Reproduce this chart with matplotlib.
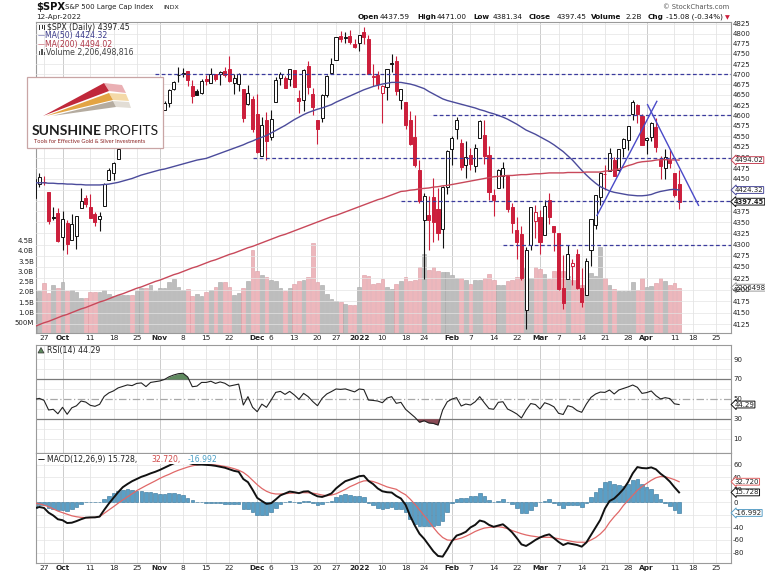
import matplotlib
matplotlib.use("Agg")
import matplotlib.pyplot as plt
from matplotlib.patches import Rectangle, Polygon
from matplotlib.ticker import FixedLocator, NullLocator
import numpy as np

plt.rcParams['font.family'] = ['DejaVu Sans']

# ---------------- data ----------------
trading_days = {
    "2021-09": [23, 24, 27, 28, 29, 30],
    "2021-10": [1, 4, 5, 6, 7, 8, 11, 12, 13, 14, 15, 18, 19, 20, 21, 22, 25, 26, 27, 28, 29],
    "2021-11": [1, 2, 3, 4, 5, 8, 9, 10, 11, 12, 15, 16, 17, 18, 19, 22, 23, 24, 26, 29, 30],
    "2021-12": [1, 2, 3, 6, 7, 8, 9, 10, 13, 14, 15, 16, 17, 20, 21, 22, 23, 27, 28, 29, 30, 31],
    "2022-01": [3, 4, 5, 6, 7, 10, 11, 12, 13, 14, 18, 19, 20, 21, 24, 25, 26, 27, 28, 31],
    "2022-02": [1, 2, 3, 4, 7, 8, 9, 10, 11, 14, 15, 16, 17, 18, 22, 23, 24, 25, 28],
    "2022-03": [1, 2, 3, 4, 7, 8, 9, 10, 11, 14, 15, 16, 17, 18, 21, 22, 23, 24, 25, 28, 29, 30, 31],
    "2022-04": [1, 4, 5, 6, 7, 8, 11, 12],
}
future_days = {"2022-04": [13, 14, 18, 19, 20, 21, 22, 25, 26, 27, 28, 29]}

prev_close = 4395.64

opens = [4406.75, 4438.04, 4442.12, 4419.54, 4362.41, 4370.67,
         4317.16, 4348.84, 4309.87, 4319.57, 4383.73, 4406.51, 4385.44, 4368.31, 4358.01, 4386.75, 4447.69,
         4463.72, 4497.34, 4524.42, 4532.24, 4546.12, 4553.69, 4578.69, 4580.22, 4562.84, 4572.87,
         4610.62, 4613.34, 4630.65, 4662.93, 4699.26, 4701.48, 4707.25, 4670.26, 4659.39, 4655.24, 4689.30,
         4679.42, 4701.50, 4700.72, 4708.44, 4712.00, 4678.48, 4675.78, 4664.63, 4628.75, 4640.25,
         4602.82, 4504.73, 4589.49, 4548.37, 4631.97, 4690.86, 4691.00, 4687.64, 4710.30, 4642.99, 4636.46,
         4719.13, 4652.50, 4587.90, 4594.96, 4650.36, 4703.96, 4733.99, 4795.49, 4788.64, 4794.23, 4775.21,
         4778.14, 4804.51, 4787.99, 4693.39, 4697.66, 4655.34, 4669.14, 4728.59, 4733.56, 4637.99, 4632.24,
         4588.03, 4547.35, 4471.38, 4356.32, 4366.64, 4408.43, 4380.58, 4336.19, 4431.79,
         4519.57, 4566.39, 4535.41, 4482.79, 4505.75, 4480.02, 4547.00, 4553.24, 4506.27, 4412.61, 4429.28,
         4455.75, 4456.06, 4384.57, 4332.74, 4324.93, 4155.77, 4298.38, 4354.17,
         4363.14, 4322.56, 4401.31, 4342.12, 4327.01, 4202.66, 4223.10, 4252.55, 4279.50, 4202.75, 4188.82,
         4288.14, 4345.11, 4407.34, 4462.40, 4469.10, 4493.10, 4469.98, 4522.91, 4541.09, 4602.86, 4624.20, 4599.02,
         4540.32, 4547.97, 4572.45, 4494.17, 4474.65, 4494.15, 4462.64, 4437.59]
highs = [4465.40, 4463.12, 4457.30, 4419.54, 4385.57, 4382.55,
         4375.19, 4355.51, 4369.23, 4365.57, 4429.97, 4412.02, 4415.88, 4374.89, 4372.87, 4439.73, 4475.82,
         4488.75, 4520.40, 4540.87, 4551.44, 4559.67, 4572.62, 4598.53, 4584.57, 4597.55, 4608.08,
         4620.34, 4635.15, 4663.46, 4683.00, 4718.50, 4714.92, 4708.53, 4684.85, 4664.55, 4688.47, 4697.42,
         4714.95, 4701.50, 4708.80, 4717.75, 4743.83, 4699.39, 4702.87, 4664.63, 4672.95, 4646.02,
         4652.94, 4595.46, 4608.03, 4612.60, 4694.04, 4705.06, 4695.26, 4713.57, 4710.30, 4660.47, 4712.60,
         4731.99, 4666.70, 4587.90, 4651.14, 4697.67, 4740.74, 4791.49, 4807.02, 4804.06, 4808.93, 4786.83,
         4796.64, 4818.62, 4797.70, 4725.01, 4707.95, 4673.02, 4714.13, 4748.83, 4744.13, 4665.13, 4632.24,
         4611.55, 4602.11, 4494.52, 4417.35, 4411.01, 4453.23, 4428.74, 4432.72, 4516.89,
         4550.49, 4595.31, 4542.88, 4539.66, 4521.86, 4531.32, 4590.03, 4588.92, 4526.33, 4426.22, 4472.77,
         4489.55, 4456.06, 4394.60, 4362.12, 4341.51, 4294.73, 4385.34, 4388.84,
         4378.45, 4401.48, 4416.78, 4342.12, 4327.01, 4276.94, 4299.40, 4268.28, 4291.01, 4247.57, 4271.05,
         4358.90, 4412.67, 4465.40, 4481.75, 4522.00, 4501.07, 4520.58, 4546.03, 4575.65, 4637.30, 4627.77, 4603.07,
         4548.70, 4583.50, 4593.45, 4503.94, 4521.16, 4520.41, 4464.35, 4471.00]
lows = [4406.75, 4430.27, 4436.19, 4346.33, 4355.08, 4306.24,
        4288.52, 4278.94, 4309.87, 4290.49, 4383.73, 4386.22, 4360.59, 4342.09, 4329.92, 4386.75, 4447.69,
        4447.47, 4496.41, 4524.40, 4526.89, 4524.00, 4537.36, 4569.17, 4551.66, 4562.84, 4567.59,
        4595.06, 4613.34, 4621.19, 4662.59, 4681.32, 4694.39, 4670.87, 4630.86, 4648.31, 4650.77, 4672.86,
        4679.42, 4684.41, 4672.78, 4694.22, 4682.17, 4652.66, 4659.89, 4585.43, 4625.26, 4560.00,
        4510.27, 4504.73, 4495.12, 4540.51, 4631.97, 4674.52, 4665.98, 4670.24, 4667.60, 4606.52, 4611.22,
        4651.89, 4600.22, 4531.10, 4583.16, 4645.53, 4703.96, 4733.99, 4780.04, 4778.08, 4775.33, 4765.75,
        4758.17, 4774.27, 4699.44, 4671.26, 4662.74, 4582.24, 4638.27, 4706.71, 4650.29, 4614.75, 4568.70,
        4530.20, 4477.95, 4395.34, 4222.62, 4287.11, 4304.80, 4309.50, 4292.46, 4414.02,
        4483.53, 4544.32, 4470.39, 4451.50, 4471.47, 4465.40, 4547.00, 4484.31, 4401.41, 4364.84, 4429.28,
        4429.68, 4373.81, 4327.22, 4267.11, 4221.51, 4114.65, 4286.83, 4315.12,
        4279.54, 4322.56, 4345.56, 4284.98, 4199.85, 4157.87, 4223.10, 4209.80, 4200.49, 4161.72, 4187.90,
        4251.99, 4335.65, 4390.57, 4424.30, 4469.10, 4455.81, 4465.17, 4501.07, 4517.69, 4589.66, 4581.32, 4530.41,
        4507.57, 4539.21, 4514.17, 4450.04, 4450.30, 4474.60, 4408.38, 4381.34]
closes = [4448.98, 4455.48, 4443.11, 4352.63, 4359.46, 4307.54,
          4357.04, 4300.46, 4345.72, 4363.55, 4399.76, 4391.34, 4361.19, 4350.65, 4363.80, 4438.26, 4471.37,
          4486.46, 4519.63, 4536.19, 4549.78, 4544.90, 4566.48, 4574.79, 4551.68, 4596.42, 4605.38,
          4613.67, 4630.65, 4660.57, 4680.06, 4697.53, 4701.70, 4685.25, 4646.71, 4649.27, 4682.85, 4682.80,
          4700.90, 4688.67, 4704.54, 4697.96, 4682.94, 4690.70, 4701.46, 4594.62, 4655.27, 4567.00,
          4513.04, 4577.10, 4538.43, 4591.67, 4686.75, 4701.21, 4667.45, 4712.02, 4668.97, 4634.09, 4709.85,
          4668.67, 4620.64, 4568.02, 4649.23, 4696.56, 4725.79, 4791.19, 4786.35, 4793.06, 4778.73, 4766.18,
          4796.56, 4793.54, 4700.58, 4696.05, 4677.03, 4670.29, 4713.07, 4726.35, 4659.03, 4662.85, 4577.11,
          4532.76, 4482.73, 4397.94, 4410.13, 4356.45, 4349.93, 4326.51, 4431.85, 4515.55,
          4546.54, 4589.38, 4477.44, 4500.53, 4483.87, 4521.54, 4587.18, 4504.08, 4418.64, 4401.67, 4471.07,
          4475.01, 4380.26, 4348.87, 4304.76, 4225.50, 4288.70, 4384.65, 4373.94,
          4306.26, 4386.54, 4363.49, 4328.87, 4201.09, 4170.70, 4277.88, 4259.52, 4204.31, 4173.11, 4262.45,
          4357.86, 4411.67, 4463.12, 4461.18, 4511.61, 4456.24, 4520.16, 4543.06, 4575.52, 4631.60, 4602.45, 4530.41,
          4545.86, 4582.64, 4525.12, 4481.15, 4500.21, 4488.28, 4412.53, 4397.45]

volume_b = [1.71, 2.06, 2.44, 1.95, 2.33, 2.20, 2.47, 2.06, 2.08, 1.98,
            1.71, 1.71, 1.98, 1.98, 1.98, 2.08, 1.90, 1.82, 1.87, 1.87,
            1.85, 1.87, 2.03, 2.20, 2.20, 2.33, 2.03, 2.18, 2.18, 2.49,
            2.63, 2.24, 2.11, 2.15, 1.79, 1.90, 1.82, 1.98, 2.08, 2.24,
            2.47, 2.47, 2.24, 1.87, 1.95, 2.20, 2.52, 4.06, 3.04, 2.81,
            2.73, 2.59, 2.52, 2.20, 2.06, 2.18, 2.39, 2.52, 2.59, 2.73,
            4.39, 2.49, 2.33, 1.90, 1.66, 1.55, 1.51, 1.41, 1.37, 1.37,
            2.24, 2.85, 2.80, 2.39, 2.44, 2.65, 2.24, 2.13, 2.39, 2.55,
            2.72, 2.52, 2.59, 3.20, 3.87, 3.09, 3.20, 3.04, 2.98, 2.98,
            2.85, 2.68, 2.68, 2.60, 2.39, 2.60, 2.57, 2.68, 2.89, 2.60,
            2.36, 2.36, 2.52, 2.60, 2.73, 2.68, 3.17, 2.68, 3.20, 3.12,
            2.88, 2.63, 3.00, 3.77, 3.00, 2.76, 2.60, 2.60, 2.36, 2.60,
            2.93, 2.80, 4.20, 2.68, 2.36, 2.16, 2.07, 2.03, 2.07, 2.49,
            2.11, 2.68, 2.24, 2.31, 2.44, 2.68, 2.55, 2.33, 2.46, 2.21]

ma50 = [4441, 4441, 4441, 4440, 4440, 4439, 4439, 4438, 4438, 4437,
        4437, 4436, 4436, 4436, 4436, 4437, 4438, 4440, 4442, 4445,
        4448, 4451, 4455, 4459, 4462, 4465, 4468, 4471, 4473, 4476,
        4479, 4482, 4485, 4488, 4491, 4494, 4496, 4498, 4502, 4506,
        4510, 4514, 4518, 4522, 4526, 4530, 4535, 4539, 4544, 4548,
        4552, 4558, 4564, 4570, 4576, 4583, 4590, 4596, 4602, 4607,
        4611, 4615, 4618, 4622, 4626, 4632, 4637, 4642, 4647, 4652,
        4657, 4662, 4666, 4670, 4673, 4676, 4678, 4680, 4680, 4680,
        4678, 4676, 4673, 4669, 4665, 4658, 4652, 4646, 4640, 4636,
        4633, 4630, 4627, 4624, 4621, 4618, 4614, 4611, 4607, 4604,
        4600, 4596, 4591, 4585, 4579, 4572, 4565, 4560, 4555, 4549,
        4543, 4537, 4530, 4522, 4514, 4504, 4494, 4482, 4470, 4459,
        4449, 4440, 4432, 4427, 4422, 4419, 4417, 4415, 4413, 4412,
        4411, 4411, 4412, 4414, 4418, 4421, 4423, 4425, 4426, 4424.32]

ma200 = [4120, 4124, 4128, 4131, 4135, 4139, 4143, 4146, 4150, 4154,
         4158, 4161, 4165, 4169, 4173, 4176, 4180, 4184, 4188, 4191,
         4195, 4199, 4203, 4206, 4210, 4214, 4218, 4221, 4225, 4229,
         4233, 4236, 4240, 4244, 4248, 4251, 4255, 4259, 4263, 4266,
         4270, 4274, 4278, 4281, 4285, 4289, 4293, 4296, 4300, 4304,
         4308, 4312, 4316, 4320, 4323, 4327, 4331, 4335, 4339, 4343,
         4347, 4351, 4355, 4359, 4363, 4366, 4370, 4374, 4378, 4382,
         4386, 4390, 4394, 4398, 4402, 4405, 4409, 4413, 4417, 4421,
         4422, 4424, 4425, 4427, 4428, 4429, 4431, 4432, 4434, 4435,
         4437, 4439, 4441, 4443, 4445, 4447, 4449, 4451, 4453, 4455,
         4456, 4457, 4458, 4458, 4459, 4460, 4460, 4461, 4462, 4462,
         4463, 4464, 4464, 4464, 4464, 4465, 4465, 4465, 4465, 4466,
         4466, 4466, 4466, 4468, 4469, 4471, 4473, 4477, 4481, 4484,
         4488, 4490, 4491, 4492, 4494, 4495, 4495, 4494.5, 4494.3, 4494.02]

rsi14 = [49.5, 50.5, 48.5, 38.8, 39.5, 35.0, 41.5, 34.5, 41.0, 43.0,
         47.8, 46.8, 43.5, 42.5, 44.5, 52.5, 56.0, 58.0, 61.0, 62.5,
         64.0, 63.3, 65.5, 66.0, 62.3, 66.5, 67.3, 68.0, 69.5, 72.2,
         74.0, 75.3, 75.7, 72.0, 62.2, 62.8, 66.5, 66.5, 67.7, 65.5,
         67.0, 65.7, 62.8, 63.8, 64.8, 43.8, 52.2, 41.5, 37.1, 44.7,
         41.5, 48.8, 56.5, 57.5, 54.5, 57.5, 53.9, 49.5, 55.5, 52.2,
         47.2, 43.1, 50.5, 54.9, 57.3, 59.9, 59.5, 60.0, 58.5, 57.0,
         59.9, 59.3, 48.8, 48.4, 47.8, 46.1, 50.8, 52.2, 45.5, 46.5,
         39.5, 35.5, 31.5, 26.5, 28.0, 25.8, 25.3, 23.7, 38.8, 47.1,
         49.8, 51.2, 42.8, 44.8, 43.8, 47.0, 52.2, 46.0, 40.2, 39.5,
         46.5, 47.1, 39.8, 37.5, 34.8, 30.8, 38.8, 45.3, 44.3, 39.8,
         46.1, 44.5, 42.0, 35.5, 34.3, 43.1, 41.8, 38.2, 36.5, 44.8,
         51.5, 54.9, 56.8, 56.5, 58.9, 54.9, 58.9, 60.5, 62.0, 63.9,
         61.6, 55.5, 56.3, 57.9, 53.2, 49.9, 51.2, 50.3, 45.0, 44.29]

macd_line = [-9.5, -7.5, -9.0, -16.5, -21.0, -27.0, -28.5, -33.0, -32.5, -30.0,
             -27.0, -24.5, -24.0, -24.0, -22.8, -12.0, -2.0, 7.0, 16.0, 24.0,
             29.0, 33.5, 37.0, 40.5, 43.0, 46.0, 48.5, 51.5, 55.0, 58.5,
             62.0, 64.5, 65.0, 63.0, 61.0, 60.0, 60.0, 59.5, 59.0, 58.0,
             56.5, 55.0, 52.5, 50.0, 48.5, 37.0, 32.0, 20.0, 7.0, 2.0,
             -2.5, -1.5, 4.5, 11.0, 14.0, 17.0, 16.0, 14.5, 17.0, 17.5,
             13.0, 9.5, 8.5, 11.0, 14.0, 22.0, 28.0, 33.5, 36.0, 38.5,
             41.5, 42.3, 34.0, 29.0, 22.0, 17.5, 16.0, 15.5, 10.0, 6.0,
             -4.0, -22.0, -37.0, -50.0, -58.0, -68.0, -78.0, -85.4, -86.5, -75.0,
             -62.0, -53.0, -50.5, -47.0, -40.0, -36.0, -29.0, -31.0, -36.0, -39.0,
             -37.0, -35.0, -41.0, -48.0, -57.0, -67.0, -69.5, -65.0, -60.0, -56.0,
             -53.0, -51.0, -57.0, -63.0, -68.0, -65.0, -66.5, -68.0, -70.6, -64.0,
             -52.0, -40.0, -28.0, -10.0, 2.0, 6.0, 13.0, 21.0, 32.0, 46.0,
             56.0, 54.5, 54.0, 55.5, 52.5, 45.5, 40.0, 33.0, 24.0, 15.728]

signal_line = [-1.0, -2.5, -4.5, -7.0, -10.5, -14.0, -16.5, -19.0, -21.5, -23.0,
               -24.0, -24.5, -24.5, -23.8, -22.9, -17.5, -12.2, -7.0, -1.5, 3.7,
               8.5, 13.5, 18.5, 22.5, 26.5, 30.2, 34.0, 38.0, 41.5, 44.5,
               48.0, 51.0, 53.5, 56.0, 58.0, 59.5, 60.3, 60.3, 60.0, 59.3,
               58.3, 57.0, 55.5, 53.5, 51.0, 47.5, 42.0, 35.0, 28.0, 22.0,
               17.5, 14.5, 13.2, 13.2, 13.6, 14.3, 14.8, 15.3, 15.3, 15.1,
               14.5, 13.2, 11.5, 10.5, 11.5, 13.5, 17.0, 20.5, 24.8, 28.0,
               31.5, 34.0, 34.4, 33.0, 30.5, 27.5, 24.5, 22.5, 20.7, 16.0,
               12.0, 5.0, -3.0, -12.0, -21.0, -30.0, -40.0, -49.0, -56.0, -60.0,
               -60.5, -59.0, -57.0, -54.0, -50.5, -46.5, -43.5, -41.0, -40.0, -39.5,
               -38.8, -40.0, -42.0, -45.0, -47.5, -50.0, -52.0, -53.5, -54.5, -55.7,
               -55.7, -55.7, -56.5, -58.0, -59.5, -61.0, -62.5, -63.5, -63.6, -63.6,
               -60.0, -56.0, -50.4, -43.0, -32.0, -23.0, -15.0, -5.0, 3.0, 11.0,
               19.0, 25.0, 30.0, 35.0, 39.0, 41.0, 40.7, 38.5, 36.0, 32.72]

# horizontal support / resistance levels drawn on the chart and where they start
level_prices = [4700, 4600, 4500, 4398, 4300]
level_starts = ["2021-10-29", "2022-01-26", "2021-11-30", "2022-01-14", "2022-02-16"]
# hand-drawn trend lines (trading-day position, price)
trend1_x, trend1_y = [121.3, 134.2], [4366, 4634]
trend2_x, trend2_y = [132.2, 143.2], [4626, 4389]

tick_dates = ["2021-09-27", "2021-10-01", "2021-10-11", "2021-10-18", "2021-10-25", "2021-11-01",
              "2021-11-08", "2021-11-15", "2021-11-22", "2021-12-01", "2021-12-06", "2021-12-13",
              "2021-12-20", "2021-12-27", "2022-01-03", "2022-01-10", "2022-01-18", "2022-01-24",
              "2022-02-01", "2022-02-07", "2022-02-14", "2022-02-22", "2022-03-01", "2022-03-07",
              "2022-03-14", "2022-03-21", "2022-03-28", "2022-04-01", "2022-04-11", "2022-04-18",
              "2022-04-25"]
tick_labels = ["27", "Oct", "11", "18", "25", "Nov", "8", "15", "22", "Dec", "6", "13", "20", "27",
               "2022", "10", "18", "24", "Feb", "7", "14", "22", "Mar", "7", "14", "21", "28", "Apr",
               "11", "18", "25"]
month_labels = {"Oct", "Nov", "Dec", "2022", "Feb", "Mar", "Apr"}

price_ticks = list(range(4125, 4826, 25))
vol_ticks = [0.5, 1.0, 1.5, 2.0, 2.5, 3.0, 3.5, 4.0, 4.5]
vol_tick_labels = ["500M", "1.0B", "1.5B", "2.0B", "2.5B", "3.0B", "3.5B", "4.0B", "4.5B"]

# ---------------- layout ----------------
W, H = 765, 575
dates = [f"{m}-{d:02d}" for m, ds in trading_days.items() for d in ds]
axis_dates = dates + [f"{m}-{d:02d}" for m, ds in future_days.items() for d in ds]
pos = {d: i for i, d in enumerate(axis_dates)}
n = len(dates)
x = np.arange(n)

RED = '#cc1f3c'
BLK = '#111111'
GRID = '#e4e4e4'
MGRID = '#c4c4c4'
FS = 5.0      # axis tick labels / value boxes
LFS = 5.6     # legend texts

def P(px, py):
    return (px / W, 1 - py / H)

fig = plt.figure(figsize=(W / 100, H / 100), dpi=100)
L, R = 36 / W, 731 / W

def add_ax(top, bottom):
    return fig.add_axes([L, 1 - bottom / H, R - L, (bottom - top) / H])

ax_v = add_ax(22, 333)
ax_p = ax_v.twinx()
ax_r = add_ax(345, 453)
ax_m = add_ax(453, 563)

xlim = (0.28, 150.2)
tick_pos = [pos[d] for d in tick_dates]

for a in (ax_v, ax_r, ax_m):
    a.set_xlim(*xlim)
    a.set_axisbelow(True)
    for p, lab in zip(tick_pos, tick_labels):
        a.axvline(p, color=MGRID if lab in month_labels else GRID, lw=0.6, zorder=0)
    for s in a.spines.values():
        s.set_color('#9a9a9a')
        s.set_linewidth(0.8)
    a.tick_params(length=0, labelsize=5.3, colors='#222222', pad=1.5)
for s in ax_p.spines.values():
    s.set_visible(False)

for a in (ax_v, ax_m, ax_r):
    a.set_xticks(tick_pos)
    a.set_xticklabels(tick_labels)
    for t in a.get_xticklabels():
        if t.get_text() in month_labels:
            t.set_fontweight('bold')
ax_r.tick_params(axis='x', labelbottom=False)

# ---------- volume ----------
prevs = [prev_close] + closes[:-1]
up = [c >= p for c, p in zip(closes, prevs)]
vcol = ['#bdbdbd' if u else '#edb7bc' for u in up]
vedge = ['#a6a6a6' if u else '#dc9aa2' for u in up]
ax_v.bar(x, volume_b, width=0.8, color=vcol, edgecolor=vedge, linewidth=0.4, zorder=2)
ax_v.set_ylim(0, 15.17)
ax_v.yaxis.set_major_locator(FixedLocator(vol_ticks))
ax_v.set_yticklabels(vol_tick_labels)
ax_v.tick_params(axis='y', labelsize=FS)

# ---------- price ----------
ax_p.set_yscale('log')
ax_p.set_ylim(4106, 4830)
ax_p.yaxis.set_major_locator(FixedLocator(price_ticks))
ax_p.yaxis.set_minor_locator(NullLocator())
ax_p.set_yticklabels([str(t) for t in price_ticks])
ax_p.tick_params(axis='y', length=0, labelsize=FS, colors='#222222', pad=1.5)
for t in price_ticks:
    ax_p.axhline(t, color=GRID, lw=0.5, zorder=0)

edge_cols = [BLK if u else RED for u in up]
face_cols = ['white' if c > o else ec for o, c, ec in zip(opens, closes, edge_cols)]
ax_p.vlines(x, lows, highs, colors=edge_cols, lw=0.8, zorder=3)
bottoms = [min(o, c) for o, c in zip(opens, closes)]
heights = [max(abs(c - o), 0.4) for o, c in zip(opens, closes)]
ax_p.bar(x, heights, bottom=bottoms, width=0.66, color=face_cols, edgecolor=edge_cols,
         linewidth=0.7, zorder=4)

ax_p.plot(x, ma50, color='#4b4b9b', lw=1.0, zorder=5)
ax_p.plot(x, ma200, color='#c8485a', lw=1.0, zorder=5)

for lp, ls in zip(level_prices, level_starts):
    ax_p.hlines(lp, pos[ls], xlim[1], colors='#3b3b9e', lw=0.9, linestyles=(0, (3, 2)), zorder=5)
ax_p.plot(trend1_x, trend1_y, color='#4a4ac8', lw=1.0, zorder=6)
ax_p.plot(trend2_x, trend2_y, color='#4a4ac8', lw=1.0, zorder=6)
ax_p.set_xlim(*xlim)

def value_box(ax, val, text, ec, bold=False, fs=FS, off=2.6):
    ax.annotate(text, xy=(1.0, val), xycoords=('axes fraction', 'data'),
                xytext=(off, 0), textcoords='offset points', ha='left', va='center',
                fontsize=fs, fontweight='bold' if bold else 'normal', color='#222222',
                bbox=dict(boxstyle='larrow,pad=0.06', fc='white', ec=ec, lw=0.7),
                annotation_clip=False, zorder=20)

value_box(ax_p, ma200[-1], f"{ma200[-1]:.2f}", '#c8485a')
value_box(ax_p, ma50[-1], f"{ma50[-1]:.2f}", '#4b4b9b')
value_box(ax_p, closes[-1], f"{closes[-1]:.2f}", '#111111', bold=True, fs=4.8, off=2.3)
value_box(ax_v, volume_b[-1], "2206498", '#9a9a9a')

# ---------- RSI ----------
rsi = np.array(rsi14)
ax_r.set_ylim(-4.4, 104.1)
for lv in (10, 20, 40, 60, 80, 90):
    ax_r.axhline(lv, color=GRID, lw=0.5, zorder=0)
ax_r.axhline(70, color='#7a7a7a', lw=0.9, zorder=1)
ax_r.axhline(30, color='#7a7a7a', lw=0.9, zorder=1)
ax_r.axhline(50, color='#a8a8a8', lw=0.9, ls=(0, (6, 2, 1, 2)), zorder=1)
ax_r.fill_between(x, rsi, 70, where=rsi > 70, interpolate=True, color='#5f8a5f', lw=0, zorder=2)
ax_r.fill_between(x, rsi, 30, where=rsi < 30, interpolate=True, color='#8a4a55', lw=0, zorder=2)
ax_r.plot(x, rsi, color='#222222', lw=0.8, zorder=3)
ax_r.yaxis.tick_right()
ax_r.yaxis.set_major_locator(FixedLocator([10, 30, 50, 70, 90]))
ax_r.set_yticklabels(["10", "30", "50", "70", "90"])
ax_r.tick_params(axis='y', labelsize=FS)
value_box(ax_r, rsi14[-1], f"{rsi14[-1]:.2f}", '#111111')

# ---------- MACD ----------
macd = np.array(macd_line)
sig = np.array(signal_line)
hist = macd - sig
ax_m.set_ylim(-96.6, 78.4)
for lv in range(-80, 61, 20):
    ax_m.axhline(lv, color=GRID, lw=0.5, zorder=0)
ax_m.bar(x, hist, width=0.78, color='#5a9fc6', edgecolor='#2f6f96', linewidth=0.4, zorder=2)
ax_m.plot(x, sig, color='#e06868', lw=0.9, zorder=3)
ax_m.plot(x, macd, color='#111111', lw=1.4, zorder=4)
ax_m.yaxis.tick_right()
ax_m.yaxis.set_major_locator(FixedLocator(list(range(-80, 61, 20))))
ax_m.set_yticklabels([str(v) for v in range(-80, 61, 20)])
ax_m.tick_params(axis='y', labelsize=FS)
value_box(ax_m, sig[-1], f"{signal_line[-1]:.3f}", '#e06060')
value_box(ax_m, macd[-1], f"{macd_line[-1]:.3f}", '#111111')
value_box(ax_m, hist[-1], f"{hist[-1]:.3f}", '#5a9fc6')

# ---------- texts ----------
def ftext(px, py, s, **kw):
    kw.setdefault('fontsize', LFS)
    kw.setdefault('va', 'center')
    kw.setdefault('ha', 'left')
    kw.setdefault('zorder', 30)
    return fig.text(*P(px, py), s, **kw)

ftext(36, 7, "$SPX", fontsize=7.2, fontweight='bold', color='#111111')
ftext(65, 7.5, "S&P 500 Large Cap Index", fontsize=5.0, color='#222222')
ftext(163, 7.5, "INDX", fontsize=4.5, color='#222222')
ftext(36, 17, "12-Apr-2022", fontsize=5.2, color='#222222')
ftext(663, 7, "© StockCharts.com", fontsize=4.9, color='#555555')

hdr = [(358, "Open", True), (380, "4437.59", False), (417.5, "High", True), (436.5, "4471.00", False),
       (473, "Low", True), (493, "4381.34", False), (529, "Close", True), (556.5, "4397.45", False),
       (591, "Volume", True), (625, "2.2B", False), (648, "Chg", True), (666.5, "-15.08 (-0.34%)", False)]
for hx, hs, hb in hdr:
    ftext(hx, 17, hs, fontsize=5.2, fontweight='bold' if hb else 'normal', color='#111111')
ftext(725, 17.5, "▼", fontsize=4.5, color=RED)

# main legend
for bx, by, bh in ((39, 30, 5), (41.5, 29, 4), (44, 30, 5)):
    fig.add_artist(Rectangle(P(bx, by), 1.4 / W, bh / H, transform=fig.transFigure,
                             fc='#333333', ec='none', zorder=30))
ftext(47, 27.3, "$SPX (Daily) 4397.45", color='#222222')
ftext(38, 35.7, "—", color='#4b4b9b', fontsize=5)
ftext(45, 35.7, "MA(50) 4424.32", color='#3b3b8b')
ftext(38, 44, "—", color='#c8485a', fontsize=5)
ftext(45, 44, "MA(200) 4494.02", color='#b03848')
for bx, bh in ((39, 4), (41.3, 6), (43.6, 3)):
    fig.add_artist(Rectangle(P(bx, 55), 1.3 / W, bh / H, transform=fig.transFigure,
                             fc='#555555', ec='none', zorder=30))
ftext(45.5, 52.3, "Volume 2,206,498,816", color='#444444')

# RSI legend
fig.add_artist(Polygon([P(38, 353), P(41, 347.5), P(44, 353)], closed=True, transform=fig.transFigure,
                       fc='#5f8a5f', ec='#333333', lw=0.5, zorder=30))
ftext(47, 350, "RSI(14) 44.29", color='#222222')

# MACD legend (white backing hides the line under it)
fig.add_artist(Rectangle(P(37, 464.3), 187 / W, 10.3 / H, transform=fig.transFigure,
                         fc='white', ec='none', zorder=29))
ftext(38, 459.3, "—", color='#111111', fontsize=5, fontweight='bold')
ftext(47, 459.3, "MACD(12,26,9) 15.728,", color='#222222')
ftext(151.5, 459.3, "32.720,", color='#d04848')
ftext(188, 459.3, "-16.992", color='#4a9fc6')

# ---------- Sunshine Profits logo ----------
fig.add_artist(Rectangle(P(27, 147.5), 136 / W, 70.5 / H, transform=fig.transFigure,
                         fc='white', ec='#c9a5a5', lw=0.9, zorder=25))
rays = [([(43, 116), (104, 83), (109, 91)], '#c0283a', [(104, 83), (109, 91), (126, 93), (122, 85)], '#eab0b4'),
        ([(46, 116), (109, 93), (113, 100)], '#e3a443', [(109, 93), (113, 100), (129, 101), (126, 94)], '#f4d9a8'),
        ([(52, 116), (113, 101), (116, 107)], '#b5aca0', [(113, 101), (116, 107), (131, 108), (129, 102)], '#e2ddd5')]
for core, cc, ext, ec_ in rays:
    fig.add_artist(Polygon([P(*q) for q in ext], closed=True, transform=fig.transFigure,
                           fc=ec_, ec='none', zorder=26))
    fig.add_artist(Polygon([P(*q) for q in core], closed=True, transform=fig.transFigure,
                           fc=cc, ec='none', zorder=27))
ftext(31.5, 131, "SUNSHINE", fontsize=10.0, fontweight='bold', color='#1e1e1e', family=['Lato', 'DejaVu Sans'])
ftext(103.5, 131, "PROFITS", fontsize=10.0, color='#1e1e1e', family=['Lato', 'DejaVu Sans'])
ftext(33.5, 141.8, "Tools for Effective Gold & Silver Investments", fontsize=4.1, color='#8b2323',
      family=['Lato', 'DejaVu Sans'])

fig.savefig("out.png", dpi=100)
